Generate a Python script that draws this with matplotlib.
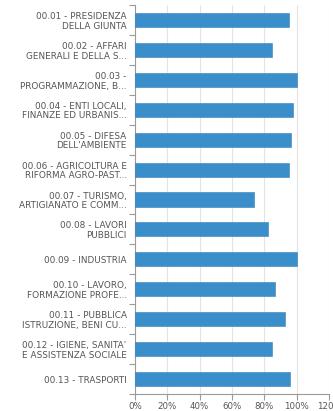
import matplotlib
matplotlib.use("Agg")
import matplotlib.pyplot as plt
import numpy as np

categories = [
    "00.01 - PRESIDENZA\nDELLA GIUNTA",
    "00.02 - AFFARI\nGENERALI E DELLA S...",
    "00.03 -\nPROGRAMMAZIONE, B...",
    "00.04 - ENTI LOCALI,\nFINANZE ED URBANIS...",
    "00.05 - DIFESA\nDELL'AMBIENTE",
    "00.06 - AGRICOLTURA E\nRIFORMA AGRO-PAST...",
    "00.07 - TURISMO,\nARTIGIANATO E COMM...",
    "00.08 - LAVORI\nPUBBLICI",
    "00.09 - INDUSTRIA",
    "00.10 - LAVORO,\nFORMAZIONE PROFE...",
    "00.11 - PUBBLICA\nISTRUZIONE, BENI CU...",
    "00.12 - IGIENE, SANITA'\nE ASSISTENZA SOCIALE",
    "00.13 - TRASPORTI",
]
values = [95, 84.6, 100, 97.7, 96.3, 95, 73.5, 82, 100, 86.6, 93, 84.6, 95.7]
xticks = [0, 20, 40, 60, 80, 100, 120]
xtick_labels = ["0%", "20%", "40%", "60%", "80%", "100%", "120%"]

W, H = 333, 411
fig = plt.figure(figsize=(W / 100, H / 100), dpi=100)
ax = fig.add_axes([135 / W, 1 - 394 / H, (329 - 135) / W, (394 - 5) / H])

n = len(categories)
y = np.arange(n)
ax.barh(y, values, height=0.47, color="#3a8fcb", edgecolor="#3580b8", linewidth=0.4, zorder=3)

ax.set_xlim(0, 120)
ax.set_ylim(n - 0.5, -0.5)
ax.set_xticks(xticks)
ax.set_xticklabels(xtick_labels)
ax.set_yticks(y)
ax.set_yticklabels(categories, linespacing=1.1)
ax.set_yticks(np.arange(n + 1) - 0.5, minor=True)

ax.grid(axis="x", color="#e4e4e4", linewidth=0.8, zorder=0)
for s in ["top", "right"]:
    ax.spines[s].set_visible(False)
for s in ["left", "bottom"]:
    ax.spines[s].set_color("#9a9a9a")
    ax.spines[s].set_linewidth(0.8)

ax.tick_params(axis="y", which="major", length=0, pad=6, labelsize=6.4, labelcolor="#555555")
ax.tick_params(axis="y", which="minor", length=4, width=0.8, color="#9a9a9a")
ax.tick_params(axis="x", which="major", length=4, width=0.8, color="#9a9a9a", pad=2,
               labelsize=6.2, labelcolor="#555555")

fig.savefig("out.png", dpi=100)
